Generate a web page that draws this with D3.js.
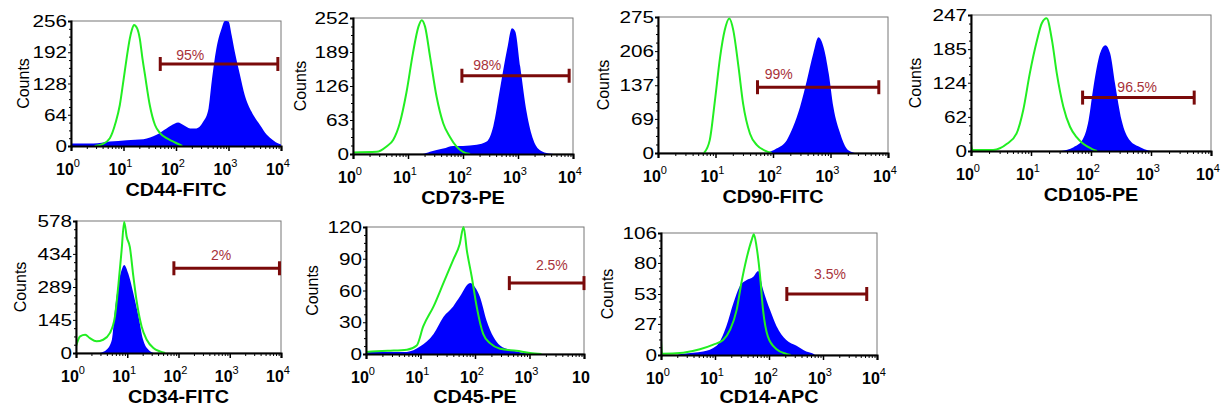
<!DOCTYPE html>
<html><head><meta charset="utf-8">
<script src="https://cdn.jsdelivr.net/npm/d3@7/dist/d3.min.js"></script>
<style>
body{margin:0;background:#fff}
svg{display:block}
text{font-family:"Liberation Sans",Arial,Helvetica,sans-serif}
</style>
</head><body>
<svg id="chart" width="1223" height="408"></svg>
<script>
// ---------------- DATA ----------------
const markers = ["CD44-FITC","CD73-PE","CD90-FITC","CD105-PE","CD34-FITC","CD45-PE","CD14-APC"];
const yMaxes = [256,252,275,247,578,120,106];
const yTickValues = [
  [0,64,128,192,256],[0,63,126,189,252],[0,69,137,206,275],[0,62,124,185,247],
  [0,145,289,434,578],[0,30,60,90,120],[0,27,53,80,106]
];
const xExponents = [0,1,2,3,4];
const xTickLabelExp = [["0","1","2","3","4"],["0","1","2","3","4"],["0","1","2","3","4"],["0","1","2","3","4"],["0","1","2","3","4"],["0","1","2","3",""],["0","1","2","3","4"]];
const gateStartLog = [1.70,1.98,1.73,1.86,1.91,2.63,2.33];
const gateEndLog   = [3.94,3.93,3.84,3.72,3.97,4.00,3.81];
const gateLevel    = [168,145,133,97,371,67,53];
const gateLabels   = ["95%","98%","99%","96.5%","2%","2.5%","3.5%"];
const gateLabelLog = [2.27,2.44,2.10,2.77,2.83,3.41,3.13];
const gateLabelCount = [186,165,160,116,429,84,70];

// isotype control (green outline): [log10 fluorescence, counts]
const cd44Iso = [[0.45,0],[0.6,4],[0.74,16],[0.85,48],[0.93,84],[1.0,135],[1.06,180],[1.12,220],[1.16,238],[1.2,248],[1.26,241],[1.31,220],[1.36,180],[1.41,145],[1.5,84],[1.6,43],[1.7,26],[1.82,16],[1.95,9],[2.08,2],[2.12,0]];
const cd73Iso = [[0,3],[0.43,4],[0.61,14],[0.73,26],[0.85,57],[0.97,113],[1.09,187],[1.19,236],[1.25,248],[1.31,236],[1.4,181],[1.52,106],[1.64,57],[1.76,32],[1.88,14],[2.0,4],[2.13,0]];
const cd90Iso = [[0.8,0],[0.9,26],[0.99,106],[1.08,194],[1.16,248],[1.24,272],[1.31,248],[1.4,174],[1.48,100],[1.6,39],[1.72,16],[1.86,5],[1.98,0]];
const cd105Iso = [[0,13],[0.02,2],[0.37,2],[0.6,13],[0.76,32],[0.87,74],[0.98,141],[1.1,201],[1.18,232],[1.26,241],[1.35,201],[1.43,141],[1.54,80],[1.65,44],[1.76,25],[1.87,13],[2.01,4],[2.1,0]];
const cd34Iso = [[0,29],[0.08,73],[0.18,80],[0.27,65],[0.4,51],[0.53,58],[0.66,87],[0.76,160],[0.83,305],[0.89,450],[0.94,574],[0.99,508],[1.05,465],[1.12,334],[1.18,232],[1.28,116],[1.38,58],[1.51,22],[1.64,7],[1.74,0]];
const cd45Iso = [[0,2],[0.4,3],[0.75,4],[0.93,8],[1.05,26],[1.24,45],[1.42,67],[1.6,89],[1.72,104],[1.79,120],[1.85,98],[1.94,73],[2.03,45],[2.15,19],[2.28,10],[2.46,5],[2.76,3],[3.01,1],[3.22,0]];
const cd14Iso = [[0,13],[0.02,1],[0.41,2],[0.72,5],[0.97,9],[1.15,13],[1.28,22],[1.4,39],[1.49,63],[1.58,83],[1.68,100],[1.72,105],[1.77,94],[1.83,71],[1.89,39],[1.98,16],[2.14,5],[2.32,1],[2.4,0]];

// stained sample (blue filled)
const cd44Stain = [[0,51],[0.02,5],[0.43,5],[0.74,9],[1.06,12],[1.38,14],[1.63,23],[1.82,36],[1.98,46],[2.04,48],[2.14,43],[2.27,36],[2.39,36],[2.52,50],[2.62,77],[2.68,132],[2.77,200],[2.87,241],[2.93,256],[3.0,255],[3.06,227],[3.12,193],[3.22,145],[3.31,104],[3.44,70],[3.6,43],[3.73,23],[3.85,12],[3.95,5],[4.0,3]];
const cd73Stain = [[0,54],[0.02,0],[1.26,0],[1.4,4],[1.64,10],[1.82,15],[2.0,15],[2.25,17],[2.43,23],[2.55,51],[2.68,125],[2.8,193],[2.89,233],[2.95,227],[3.04,162],[3.16,76],[3.28,26],[3.4,7],[3.56,1],[3.65,0]];
const cd90Stain = [[1.89,0],[2.06,9],[2.24,26],[2.35,53],[2.47,93],[2.59,147],[2.7,201],[2.79,234],[2.88,214],[2.97,160],[3.05,93],[3.17,39],[3.28,9],[3.37,2],[3.42,0]];
const cd105Stain = [[1.5,0],[1.71,7],[1.85,19],[1.96,56],[2.04,116],[2.15,177],[2.24,192],[2.32,177],[2.4,123],[2.51,56],[2.65,19],[2.82,7],[2.96,1],[3.0,0]];
const cd34Stain = [[0.47,0],[0.6,15],[0.7,58],[0.76,189],[0.83,305],[0.89,363],[0.94,385],[1.02,348],[1.12,261],[1.22,160],[1.31,58],[1.41,15],[1.48,3],[1.52,0]];
const cd45Stain = [[0,34],[0.02,2],[0.75,2],[0.99,7],[1.24,19],[1.42,35],[1.6,45],[1.72,54],[1.91,67],[2.0,63],[2.09,54],[2.21,32],[2.34,16],[2.46,8],[2.64,4],[2.89,1],[3.0,0]];
const cd14Stain = [[0.3,0],[0.41,1],[0.78,3],[1.03,8],[1.21,25],[1.34,45],[1.46,60],[1.58,65],[1.71,68],[1.8,73],[1.89,57],[2.02,39],[2.14,25],[2.32,13],[2.51,8],[2.69,3],[2.82,1],[2.85,0]];

const isoSeries = [cd44Iso,cd73Iso,cd90Iso,cd105Iso,cd34Iso,cd45Iso,cd14Iso];
const stainSeries = [cd44Stain,cd73Stain,cd90Stain,cd105Stain,cd34Stain,cd45Stain,cd14Stain];

// ---------------- LAYOUT ----------------
// plot boxes [left, top, right, bottom] in px
const boxes = [
  [71,21,281,146],[353,18,573,154],[658,17,888,153],[971,15,1211,151],
  [76,221,281,353],[366,227,584,354],[661,233,877,355]
];
const countsOffset = [48,53,55,56,56,54,54];

const svg = d3.select("#chart");
const GREEN = "#22ee22", BLUE = "#0000ff", GATE = "#7a0a0a", GATE_TXT = "#a8323a";

markers.forEach((name, i) => {
  const [L,T,R,B] = boxes[i];
  const x = d3.scaleLinear().domain([0,4]).range([L,R]);
  const y = d3.scaleLinear().domain([0,yMaxes[i]]).range([B,T]);
  const g = svg.append("g");

  // frame
  g.append("rect").attr("x",L).attr("y",T).attr("width",R-L).attr("height",B-T)
    .attr("fill","#fff").attr("stroke","#777").attr("stroke-width",1);

  // clip
  const cid = "clip"+i;
  svg.append("clipPath").attr("id",cid).append("rect")
    .attr("x",L).attr("y",T-1).attr("width",R-L).attr("height",B-T+1);
  const pg = g.append("g").attr("clip-path",`url(#${cid})`);

  // stained filled
  const area = d3.area().x(d=>x(d[0])).y0(y(0)).y1(d=>y(d[1])).curve(d3.curveMonotoneX);
  pg.append("path").datum(stainSeries[i]).attr("d",area).attr("fill",BLUE);
  // isotype outline
  const line = d3.line().x(d=>x(d[0])).y(d=>y(d[1])).curve(d3.curveMonotoneX);
  pg.append("path").datum(isoSeries[i]).attr("d",line).attr("fill","none")
    .attr("stroke",GREEN).attr("stroke-width",2);

  // x axis minor/major ticks
  const minor = [];
  for (let d=0; d<4; d++) for (let k=2;k<=9;k++) minor.push(d+Math.log10(k));
  g.append("g").attr("transform",`translate(0,${B})`)
    .call(d3.axisBottom(x).tickValues(minor).tickSize(3).tickFormat(""))
    .call(a=>a.select(".domain").remove())
    .selectAll("line").attr("stroke","#000");
  g.append("g").attr("transform",`translate(0,${B})`)
    .call(d3.axisBottom(x).tickValues(xExponents).tickSize(5).tickFormat(""))
    .call(a=>a.select(".domain").attr("stroke-width",2))
    .selectAll("line").attr("stroke","#000").attr("stroke-width",1.5);

  // y axis
  const yMinor = [];
  const tv = yTickValues[i];
  for (let t=0;t<tv.length-1;t++) for (let k=1;k<4;k++) yMinor.push(tv[t]+(tv[t+1]-tv[t])*k/4);
  g.append("g").attr("transform",`translate(${L},0)`)
    .call(d3.axisLeft(y).tickValues(yMinor).tickSize(2).tickFormat(""))
    .call(a=>a.select(".domain").remove())
    .selectAll("line").attr("stroke","#000");
  g.append("g").attr("transform",`translate(${L},0)`)
    .call(d3.axisLeft(y).tickValues(tv).tickSize(3).tickFormat(""))
    .call(a=>a.select(".domain").attr("stroke-width",2))
    .selectAll("line").attr("stroke","#000");

  // y tick labels (slightly wide face as in the reference)
  tv.forEach(v => {
    g.append("text").attr("transform",`translate(${L-4},${y(v)+6}) scale(1.22,1)`)
      .attr("text-anchor","end").attr("font-size",17).attr("fill","#000").text(v);
  });

  // x tick labels 10^n
  xExponents.forEach((e, j) => {
    const t = g.append("text").attr("x",x(e)-3).attr("y",B+29)
      .attr("text-anchor","middle").attr("font-size",16).attr("font-weight","bold").attr("fill","#000");
    t.append("tspan").text("10");
    const sup = xTickLabelExp[i][j];
    if (sup !== "") t.append("tspan").attr("dy",-8).attr("font-size",11).attr("font-weight","normal").text(sup);
  });

  // axis titles
  g.append("text").attr("transform",`translate(${(L+R)/2},${Math.min(B+50,403)}) scale(1.1,1)`)
    .attr("text-anchor","middle").attr("font-size",18).attr("font-weight","bold").attr("fill","#000").text(name);
  g.append("text").attr("transform",`translate(${L-countsOffset[i]+6},${(T+B)/2}) rotate(-90)`)
    .attr("text-anchor","middle").attr("font-size",16).attr("fill","#000").text("Counts");

  // gate marker
  const gx1 = x(gateStartLog[i]), gx2 = x(gateEndLog[i]), gy = y(gateLevel[i]);
  g.append("line").attr("x1",gx1).attr("x2",gx2).attr("y1",gy).attr("y2",gy)
    .attr("stroke",GATE).attr("stroke-width",3);
  [gx1,gx2].forEach(px => g.append("line").attr("x1",px).attr("x2",px).attr("y1",gy-7).attr("y2",gy+7)
    .attr("stroke",GATE).attr("stroke-width",3));
  g.append("text").attr("x",x(gateLabelLog[i])).attr("y",y(gateLabelCount[i])+5)
    .attr("text-anchor","middle").attr("font-size",14).attr("fill",GATE_TXT).text(gateLabels[i]);
});
</script>
</body></html>
